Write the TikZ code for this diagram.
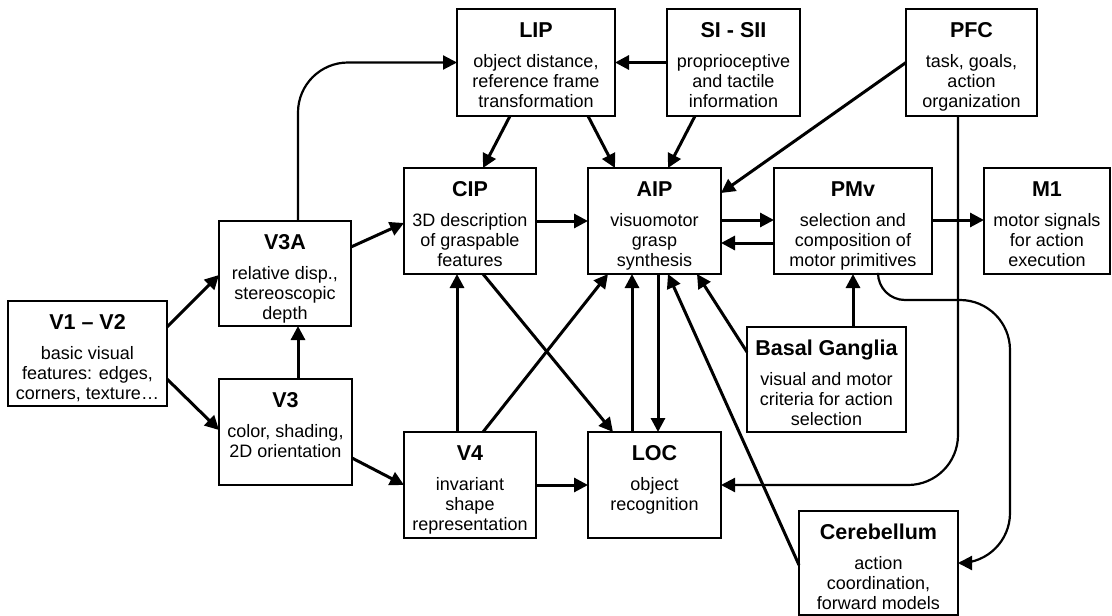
\documentclass[tikz,border=0pt]{standalone}
\usepackage{fontspec}
\setmainfont{Liberation Sans}
\usetikzlibrary{arrows.meta,calc}
\tikzset{
  box/.style={draw, line width=1.6pt, rectangle, inner sep=0pt, outer sep=0pt},
  ttl/.style={font=\bfseries\fontsize{21.5}{24}\selectfont, anchor=base, inner sep=0pt},
  bdy/.style={font=\fontsize{18}{20}\selectfont, align=center, anchor=north, inner sep=0pt},
  conn/.style={line width=3pt, -{Triangle[length=14pt,width=14pt]}},
  thinconn/.style={line width=2.2pt, -{Triangle[length=14pt,width=14pt]}},
}
\newcommand\areabox[7]{%
  \node[box, minimum width=#4pt, minimum height=#5pt, anchor=north west] (#1) at (#2,#3) {};
  \node[ttl] (#1-t) at ($(#1.north)+(0,28)$) {#6};
  \node[bdy] (#1-b) at ($(#1.north)+(0,44)$) {\rule{0pt}{14pt}#7};
}
\begin{document}
\begin{tikzpicture}[x=1pt,y=-1pt]
\useasboundingbox (0,0) rectangle (1112,616);
\areabox{v12}{8}{301}{159}{105}{V1 – V2}{basic visual\\features: edges,\\corners, texture…}
\areabox{v3a}{219}{221}{132}{105}{V3A}{relative disp.,\\stereoscopic\\depth}
\areabox{v3}{219}{379}{133}{106}{V3}{color, shading,\\2D orientation}
\areabox{lip}{457}{9}{158}{107}{LIP}{object distance,\\reference frame\\transformation}
\areabox{si}{667}{9}{133}{107}{SI - SII}{proprioceptive\\and tactile\\information}
\areabox{pfc}{906}{9}{131}{107}{PFC}{task, goals,\\action\\organization}
\areabox{cip}{404}{168}{132}{106}{CIP}{3D description\\of graspable\\features}
\areabox{aip}{588}{168}{133}{106}{AIP}{visuomotor\\grasp\\synthesis}
\areabox{pmv}{774}{168}{158}{106}{PMv}{selection and\\composition of\\motor primitives}
\areabox{m1}{984}{168}{126}{106}{M1}{motor signals\\for action\\execution}
\areabox{v4}{404}{432}{132}{106}{V4}{invariant\\shape\\representation}
\areabox{loc}{588}{432}{133}{106}{LOC}{object\\recognition}
\areabox{bg}{747}{327}{159}{105}{Basal Ganglia}{visual and motor\\criteria for action\\selection}
\areabox{cer}{799}{511}{159}{104}{Cerebellum}{action\\coordination,\\forward models}

% early visual
\draw[conn] ($(v12.north east)+(0,26)$) -- ($(v3a.north west)+(0,54)$);
\draw[conn] ($(v12.north east)+(0,78)$) -- ($(v3.north west)+(0,51)$);
\draw[conn] ($(v3.north west)+(79,0)$) -- ($(v3a.south west)+(79,0)$);
\draw[thinconn, rounded corners=50pt] ($(v3a.north west)+(79,0)$) |- (lip.west);
\draw[conn] ($(v3a.north east)+(0,26)$) -- ($(cip.north west)+(0,55)$);
\draw[conn] ($(v3.north east)+(0,79)$) -- ($(v4.north west)+(0,53)$);
% parietal
\draw[conn] ($(lip.south west)+(53,0)$) -- ($(cip.north west)+(79,0)$);
\draw[conn] ($(lip.south west)+(131,0)$) -- ($(aip.north west)+(27,0)$);
\draw[conn] (si.west) -- (lip.east);
\draw[conn] ($(si.south west)+(28,0)$) -- ($(aip.north west)+(80,0)$);
\draw[conn] (pfc.west) -- ($(aip.north east)+(0,25)$);
\draw[conn] (cip.east) -- (aip.west);
\draw[conn] ($(aip.north east)+(0,52)$) -- ($(pmv.north west)+(0,52)$);
\draw[conn] ($(pmv.north west)+(0,75)$) -- ($(aip.north east)+(0,75)$);
\draw[conn] ($(pmv.north east)+(0,52)$) -- ($(m1.north west)+(0,52)$);
% PFC to LOC
\draw[thinconn, rounded corners=50pt] ($(pfc.south west)+(52,0)$) |- (loc.east);
% PMv to Cerebellum
\coordinate (pc1) at ($(pmv.south west)+(104,0)$);
\draw[thinconn] (pc1) [rounded corners=27pt] -- ($(pc1)+(0,26)$) [rounded corners=50pt] -- ($(pc1)+(132,26)$) -- ($(pc1)+(132,289)$) -- ($(cer.north east)+(0,52)$);
% basal ganglia
\draw[conn] ($(bg.north west)+(106,0)$) -- ($(pmv.south west)+(79,0)$);
\draw[conn] ($(bg.north west)+(0,25)$) -- ($(aip.south west)+(109,0)$);
% ventral
\draw[conn] ($(v4.north west)+(53,0)$) -- ($(cip.south west)+(53,0)$);
\draw[conn] ($(v4.north west)+(79,0)$) -- ($(aip.south west)+(20,0)$);
\draw[conn] ($(cip.south west)+(79,0)$) -- ($(loc.north west)+(25,0)$);
\draw[conn] (v4.east) -- (loc.west);
\draw[conn] ($(loc.north west)+(44,0)$) -- ($(aip.south west)+(44,0)$);
\draw[conn] ($(aip.south west)+(70,0)$) -- ($(loc.north west)+(70,0)$);
\draw[conn] ($(cer.north west)+(0,54)$) -- ($(aip.south west)+(80,0)$);
\end{tikzpicture}
\end{document}
